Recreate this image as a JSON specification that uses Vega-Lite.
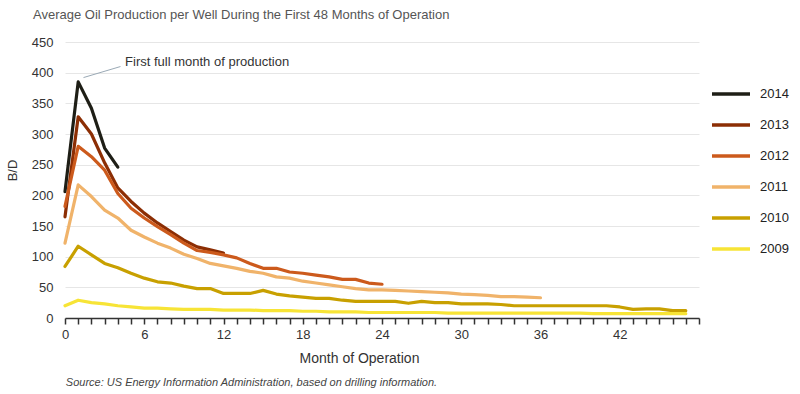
{
  "$schema": "https://vega.github.io/schema/vega-lite/v6.json",
  "width": 634,
  "height": 276,
  "autosize": {"type": "none"},
  "padding": {"left": 65, "top": 42, "right": 101, "bottom": 76},
  "background": "white",
  "config": {"font": "Liberation Sans", "view": {"stroke": null}},
  "title": {
    "text": "Average Oil Production per Well During the First 48 Months of Operation",
    "anchor": "start",
    "frame": "group",
    "dx": -32,
    "offset": 14,
    "fontSize": 13,
    "fontWeight": "normal",
    "color": "#555555"
  },
  "datasets": {
    "lines": [
      {"year": "2014", "month": 0, "bd": 206}, {"year": "2014", "month": 1, "bd": 385}, {"year": "2014", "month": 2, "bd": 342}, {"year": "2014", "month": 3, "bd": 277}, {"year": "2014", "month": 4, "bd": 246},
      {"year": "2013", "month": 0, "bd": 165}, {"year": "2013", "month": 1, "bd": 328}, {"year": "2013", "month": 2, "bd": 300}, {"year": "2013", "month": 3, "bd": 253}, {"year": "2013", "month": 4, "bd": 212}, {"year": "2013", "month": 5, "bd": 190}, {"year": "2013", "month": 6, "bd": 171}, {"year": "2013", "month": 7, "bd": 155}, {"year": "2013", "month": 8, "bd": 141}, {"year": "2013", "month": 9, "bd": 127}, {"year": "2013", "month": 10, "bd": 116}, {"year": "2013", "month": 11, "bd": 111}, {"year": "2013", "month": 12, "bd": 106},
      {"year": "2012", "month": 0, "bd": 182}, {"year": "2012", "month": 1, "bd": 280}, {"year": "2012", "month": 2, "bd": 263}, {"year": "2012", "month": 3, "bd": 241}, {"year": "2012", "month": 4, "bd": 203}, {"year": "2012", "month": 5, "bd": 179}, {"year": "2012", "month": 6, "bd": 163}, {"year": "2012", "month": 7, "bd": 149}, {"year": "2012", "month": 8, "bd": 136}, {"year": "2012", "month": 9, "bd": 122}, {"year": "2012", "month": 10, "bd": 110}, {"year": "2012", "month": 11, "bd": 107}, {"year": "2012", "month": 12, "bd": 103}, {"year": "2012", "month": 13, "bd": 98}, {"year": "2012", "month": 14, "bd": 89}, {"year": "2012", "month": 15, "bd": 81}, {"year": "2012", "month": 16, "bd": 81}, {"year": "2012", "month": 17, "bd": 75}, {"year": "2012", "month": 18, "bd": 73}, {"year": "2012", "month": 19, "bd": 70}, {"year": "2012", "month": 20, "bd": 67}, {"year": "2012", "month": 21, "bd": 63}, {"year": "2012", "month": 22, "bd": 63}, {"year": "2012", "month": 23, "bd": 57}, {"year": "2012", "month": 24, "bd": 55},
      {"year": "2011", "month": 0, "bd": 122}, {"year": "2011", "month": 1, "bd": 217}, {"year": "2011", "month": 2, "bd": 198}, {"year": "2011", "month": 3, "bd": 176}, {"year": "2011", "month": 4, "bd": 163}, {"year": "2011", "month": 5, "bd": 143}, {"year": "2011", "month": 6, "bd": 132}, {"year": "2011", "month": 7, "bd": 122}, {"year": "2011", "month": 8, "bd": 114}, {"year": "2011", "month": 9, "bd": 104}, {"year": "2011", "month": 10, "bd": 97}, {"year": "2011", "month": 11, "bd": 89}, {"year": "2011", "month": 12, "bd": 85}, {"year": "2011", "month": 13, "bd": 81}, {"year": "2011", "month": 14, "bd": 76}, {"year": "2011", "month": 15, "bd": 73}, {"year": "2011", "month": 16, "bd": 67}, {"year": "2011", "month": 17, "bd": 65}, {"year": "2011", "month": 18, "bd": 60}, {"year": "2011", "month": 19, "bd": 57}, {"year": "2011", "month": 20, "bd": 54}, {"year": "2011", "month": 21, "bd": 51}, {"year": "2011", "month": 22, "bd": 48}, {"year": "2011", "month": 23, "bd": 46}, {"year": "2011", "month": 24, "bd": 46}, {"year": "2011", "month": 25, "bd": 45}, {"year": "2011", "month": 26, "bd": 44}, {"year": "2011", "month": 27, "bd": 43}, {"year": "2011", "month": 28, "bd": 42}, {"year": "2011", "month": 29, "bd": 41}, {"year": "2011", "month": 30, "bd": 39}, {"year": "2011", "month": 31, "bd": 38}, {"year": "2011", "month": 32, "bd": 37}, {"year": "2011", "month": 33, "bd": 35}, {"year": "2011", "month": 34, "bd": 35}, {"year": "2011", "month": 35, "bd": 34}, {"year": "2011", "month": 36, "bd": 33},
      {"year": "2010", "month": 0, "bd": 84}, {"year": "2010", "month": 1, "bd": 117}, {"year": "2010", "month": 2, "bd": 103}, {"year": "2010", "month": 3, "bd": 89}, {"year": "2010", "month": 4, "bd": 82}, {"year": "2010", "month": 5, "bd": 73}, {"year": "2010", "month": 6, "bd": 65}, {"year": "2010", "month": 7, "bd": 59}, {"year": "2010", "month": 8, "bd": 57}, {"year": "2010", "month": 9, "bd": 52}, {"year": "2010", "month": 10, "bd": 48}, {"year": "2010", "month": 11, "bd": 48}, {"year": "2010", "month": 12, "bd": 40}, {"year": "2010", "month": 13, "bd": 40}, {"year": "2010", "month": 14, "bd": 40}, {"year": "2010", "month": 15, "bd": 45}, {"year": "2010", "month": 16, "bd": 39}, {"year": "2010", "month": 17, "bd": 36}, {"year": "2010", "month": 18, "bd": 34}, {"year": "2010", "month": 19, "bd": 32}, {"year": "2010", "month": 20, "bd": 32}, {"year": "2010", "month": 21, "bd": 29}, {"year": "2010", "month": 22, "bd": 27}, {"year": "2010", "month": 23, "bd": 27}, {"year": "2010", "month": 24, "bd": 27}, {"year": "2010", "month": 25, "bd": 27}, {"year": "2010", "month": 26, "bd": 24}, {"year": "2010", "month": 27, "bd": 27}, {"year": "2010", "month": 28, "bd": 25}, {"year": "2010", "month": 29, "bd": 25}, {"year": "2010", "month": 30, "bd": 23}, {"year": "2010", "month": 31, "bd": 23}, {"year": "2010", "month": 32, "bd": 23}, {"year": "2010", "month": 33, "bd": 22}, {"year": "2010", "month": 34, "bd": 20}, {"year": "2010", "month": 35, "bd": 20}, {"year": "2010", "month": 36, "bd": 20}, {"year": "2010", "month": 37, "bd": 20}, {"year": "2010", "month": 38, "bd": 20}, {"year": "2010", "month": 39, "bd": 20}, {"year": "2010", "month": 40, "bd": 20}, {"year": "2010", "month": 41, "bd": 20}, {"year": "2010", "month": 42, "bd": 18}, {"year": "2010", "month": 43, "bd": 14}, {"year": "2010", "month": 44, "bd": 15}, {"year": "2010", "month": 45, "bd": 15}, {"year": "2010", "month": 46, "bd": 12}, {"year": "2010", "month": 47, "bd": 12},
      {"year": "2009", "month": 0, "bd": 20}, {"year": "2009", "month": 1, "bd": 29}, {"year": "2009", "month": 2, "bd": 25}, {"year": "2009", "month": 3, "bd": 23}, {"year": "2009", "month": 4, "bd": 20}, {"year": "2009", "month": 5, "bd": 18}, {"year": "2009", "month": 6, "bd": 16}, {"year": "2009", "month": 7, "bd": 16}, {"year": "2009", "month": 8, "bd": 15}, {"year": "2009", "month": 9, "bd": 14}, {"year": "2009", "month": 10, "bd": 14}, {"year": "2009", "month": 11, "bd": 14}, {"year": "2009", "month": 12, "bd": 13}, {"year": "2009", "month": 13, "bd": 13}, {"year": "2009", "month": 14, "bd": 13}, {"year": "2009", "month": 15, "bd": 12}, {"year": "2009", "month": 16, "bd": 12}, {"year": "2009", "month": 17, "bd": 12}, {"year": "2009", "month": 18, "bd": 11}, {"year": "2009", "month": 19, "bd": 11}, {"year": "2009", "month": 20, "bd": 10}, {"year": "2009", "month": 21, "bd": 10}, {"year": "2009", "month": 22, "bd": 10}, {"year": "2009", "month": 23, "bd": 9}, {"year": "2009", "month": 24, "bd": 9}, {"year": "2009", "month": 25, "bd": 9}, {"year": "2009", "month": 26, "bd": 9}, {"year": "2009", "month": 27, "bd": 9}, {"year": "2009", "month": 28, "bd": 9}, {"year": "2009", "month": 29, "bd": 8}, {"year": "2009", "month": 30, "bd": 8}, {"year": "2009", "month": 31, "bd": 8}, {"year": "2009", "month": 32, "bd": 8}, {"year": "2009", "month": 33, "bd": 8}, {"year": "2009", "month": 34, "bd": 8}, {"year": "2009", "month": 35, "bd": 8}, {"year": "2009", "month": 36, "bd": 8}, {"year": "2009", "month": 37, "bd": 8}, {"year": "2009", "month": 38, "bd": 8}, {"year": "2009", "month": 39, "bd": 8}, {"year": "2009", "month": 40, "bd": 7}, {"year": "2009", "month": 41, "bd": 7}, {"year": "2009", "month": 42, "bd": 7}, {"year": "2009", "month": 43, "bd": 7}, {"year": "2009", "month": 44, "bd": 7}, {"year": "2009", "month": 45, "bd": 7}, {"year": "2009", "month": 46, "bd": 7}, {"year": "2009", "month": 47, "bd": 7}
    ],
    "leader": [{"m1": 1.4, "v1": 392, "m2": 4.2, "v2": 410}],
    "note": [{"month": 4.55, "bd": 417, "label": "First full month of production"}]
  },
  "resolve": {"axis": {"x": "independent", "y": "independent"}},
  "layer": [
    {
      "data": {"name": "lines"},
      "mark": {"type": "line", "strokeWidth": 3.2, "strokeJoin": "round", "strokeCap": "round"},
      "encoding": {
        "x": {
          "field": "month", "type": "quantitative",
          "scale": {"domain": [0, 48], "nice": false, "zero": false},
          "axis": {
            "values": [0,1,2,3,4,5,6,7,8,9,10,11,12,13,14,15,16,17,18,19,20,21,22,23,24,25,26,27,28,29,30,31,32,33,34,35,36,37,38,39,40,41,42,43,44,45,46,47,48],
            "labelExpr": "datum.value % 6 == 0 && datum.value < 48 ? datum.label : ''",
            "grid": false,
            "domain": true, "domainColor": "#333333", "domainWidth": 1.5,
            "ticks": true, "tickColor": "#333333", "tickSize": 6, "tickWidth": 1.5,
            "labelFontSize": 13, "labelColor": "#333333", "labelPadding": 4, "labelFlush": false,
            "title": "Month of Operation", "titleFontSize": 14, "titleFontWeight": "normal", "titleColor": "#333333",
            "titleX": 294, "titleY": 44, "titleBaseline": "alphabetic", "titleAlign": "center"
          }
        },
        "y": {
          "field": "bd", "type": "quantitative",
          "scale": {"domain": [0, 450], "nice": false},
          "axis": {
            "values": [0,50,100,150,200,250,300,350,400,450],
            "grid": true, "gridColor": "#e6e6e6", "gridWidth": 1,
            "domain": false, "ticks": false, "tickSize": 0,
            "labelFontSize": 13, "labelColor": "#333333", "labelPadding": 12,
            "title": "B/D", "titleFontSize": 13, "titleFontWeight": "normal", "titleColor": "#333333",
            "titleX": -53, "titleY": 128, "titleAlign": "center", "titleBaseline": "middle"
          }
        },
        "color": {
          "field": "year", "type": "nominal",
          "scale": {
            "domain": ["2014", "2013", "2012", "2011", "2010", "2009"],
            "range": ["#1e1e16", "#8c2e04", "#cc5a1c", "#f0b36a", "#c8a000", "#f7e436"]
          },
          "legend": {
            "orient": "none", "legendX": 645, "legendY": 31, "title": null,
            "symbolType": "stroke", "symbolSize": 1444, "symbolStrokeWidth": 3.5,
            "labelFontSize": 13, "labelColor": "#222222", "labelOffset": 8,
            "rowPadding": 3
          }
        },
        "order": {"field": "month", "type": "quantitative"}
      }
    },
    {
      "data": {"name": "leader"},
      "mark": {"type": "rule", "color": "#9aa9b5", "strokeWidth": 1},
      "encoding": {
        "x": {"field": "m1", "type": "quantitative", "axis": null},
        "y": {"field": "v1", "type": "quantitative", "axis": null},
        "x2": {"field": "m2"},
        "y2": {"field": "v2"}
      }
    },
    {
      "data": {"name": "note"},
      "mark": {"type": "text", "align": "left", "baseline": "middle", "fontSize": 13, "color": "#333333"},
      "encoding": {
        "x": {
          "field": "month", "type": "quantitative",
          "axis": {
            "orient": "bottom", "labels": false, "ticks": false, "domain": false, "grid": false,
            "title": "Source: US Energy Information Administration, based on drilling information.",
            "titleFontSize": 11, "titleFontStyle": "italic", "titleFontWeight": "normal", "titleColor": "#444444",
            "titleX": 186, "titleY": 67, "titleBaseline": "alphabetic", "titleAlign": "center"
          }
        },
        "y": {"field": "bd", "type": "quantitative", "axis": null},
        "text": {"field": "label"}
      }
    }
  ]
}
